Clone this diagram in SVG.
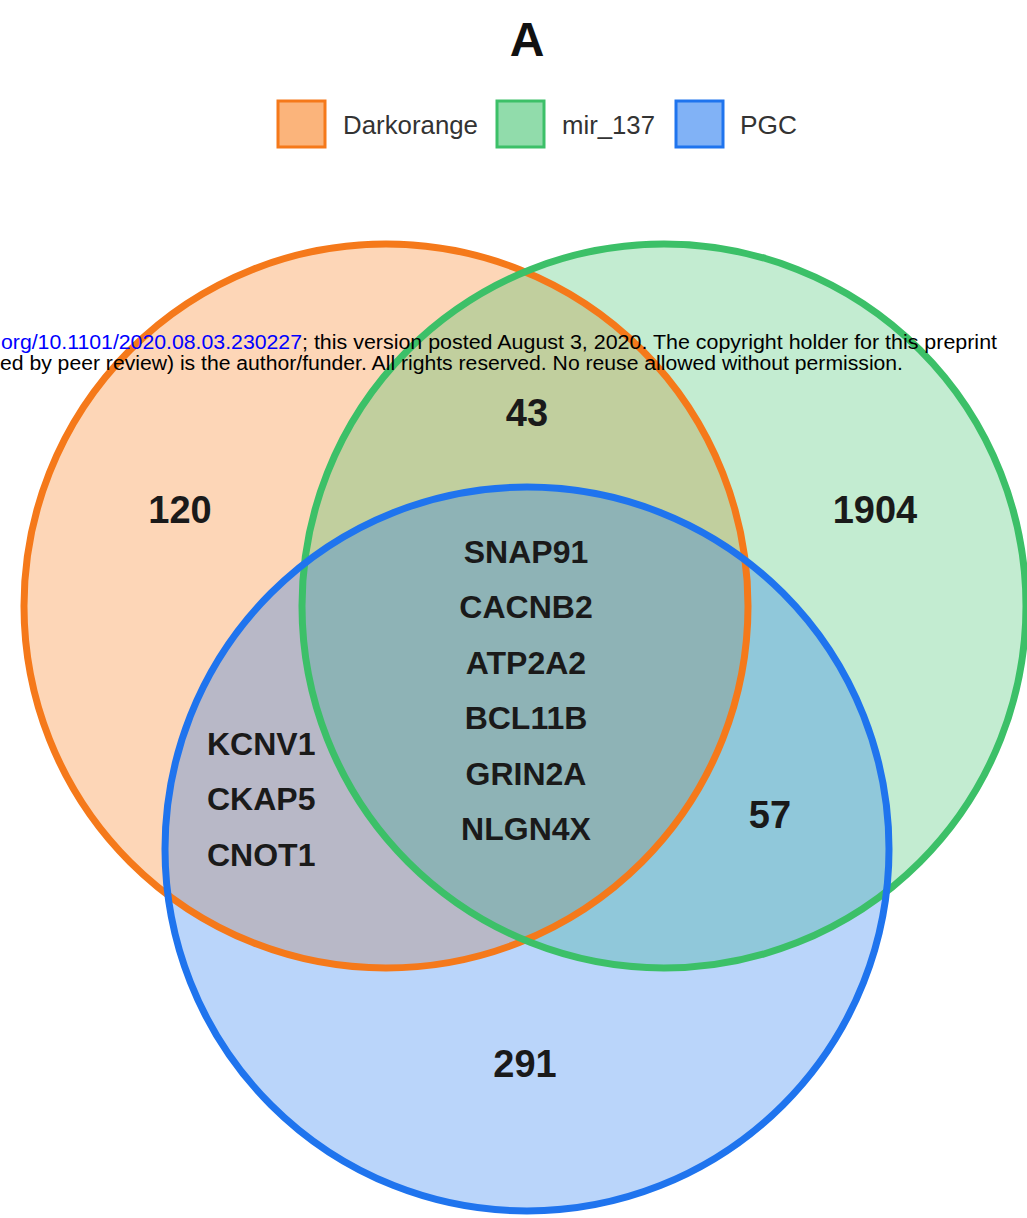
<svg xmlns="http://www.w3.org/2000/svg" width="1027" height="1218" viewBox="0 0 1027 1218">
<style>
.o{fill:#f8760f;stroke:#f5791a}
.g{fill:#37c066;stroke:#3cc068}
.b{fill:#1973ee;stroke:#1f74ee}
.fill{fill-opacity:0.3;stroke:none}
.line{fill:none;stroke-width:7}
.leg{stroke-width:3;fill-opacity:0.55}
.lt{font-family:"Liberation Sans",Arial,sans-serif;font-size:25px;fill:#333}
.num{font-family:"Liberation Sans",Arial,sans-serif;font-weight:bold;font-size:38px;fill:#1a1a1a;text-anchor:middle}
.gene{font-family:"Liberation Sans",Arial,sans-serif;font-weight:bold;font-size:32px;fill:#1a1a1a}
.wm{font-family:"Liberation Sans",Arial,sans-serif;font-size:20px}
</style>
<rect width="1027" height="1218" fill="#ffffff"/>
<text x="527" y="56" text-anchor="middle" font-family="Liberation Sans, Arial, sans-serif" font-weight="bold" font-size="48" fill="#111">A</text>
<g id="legend">
<rect class="leg o" x="278" y="101" width="47" height="46"/>
<text class="lt" x="343" y="134" textLength="135" lengthAdjust="spacingAndGlyphs">Darkorange</text>
<rect class="leg g" x="497" y="101" width="47" height="46"/>
<text class="lt" x="562" y="134" textLength="93" lengthAdjust="spacingAndGlyphs">mir_137</text>
<rect class="leg b" x="676" y="101" width="47" height="46"/>
<text class="lt" x="740" y="134" textLength="57" lengthAdjust="spacingAndGlyphs">PGC</text>
</g>
<g id="Darkorange"><circle class="o fill" cx="386" cy="606" r="362"/></g>
<g id="mir_137"><circle class="g fill" cx="664" cy="606" r="362"/></g>
<g id="PGC"><circle class="b fill" cx="527" cy="849" r="362"/></g>
<g id="outlines">
<circle class="o line" cx="386" cy="606" r="362"/>
<circle class="g line" cx="664" cy="606" r="362"/>
<circle class="b line" cx="527" cy="849" r="362"/>
</g>
<g id="connectors"></g>
<g id="labels">
<text class="num" x="180" y="523">120</text>
<text class="num" x="875" y="523">1904</text>
<text class="num" x="527" y="426">43</text>
<text class="num" x="770" y="828">57</text>
<text class="num" x="525" y="1077">291</text>
<g text-anchor="middle" class="gene">
<text x="526" y="563">SNAP91</text>
<text x="526" y="618">CACNB2</text>
<text x="526" y="674">ATP2A2</text>
<text x="526" y="729">BCL11B</text>
<text x="526" y="785">GRIN2A</text>
<text x="526" y="840">NLGN4X</text>
</g>
<g class="gene">
<text x="207" y="755">KCNV1</text>
<text x="207" y="810">CKAP5</text>
<text x="207" y="866">CNOT1</text>
</g>
</g>
<g id="watermark">
<text class="wm" x="1" y="349" fill="#0000ff" textLength="301" lengthAdjust="spacingAndGlyphs">org/10.1101/2020.08.03.230227</text>
<text class="wm" x="302" y="349" fill="#000" textLength="695" lengthAdjust="spacingAndGlyphs">; this version posted August 3, 2020. The copyright holder for this preprint</text>
<text class="wm" x="0" y="370" fill="#000" textLength="903" lengthAdjust="spacingAndGlyphs">ed by peer review) is the author/funder. All rights reserved. No reuse allowed without permission.</text>
</g>
</svg>
